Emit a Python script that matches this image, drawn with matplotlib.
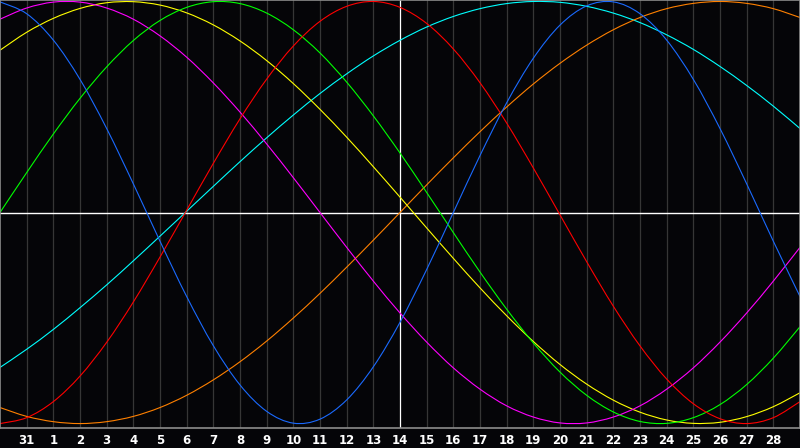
"""
Biorhythm chart - seven cycles over one month
"""

import matplotlib
matplotlib.use('Agg')
import matplotlib.pyplot as plt
from matplotlib.path import Path
from matplotlib.patches import PathPatch


# Colors
BG = '#050508'
GRID = '#363636'
FRAME = '#8c8c8c'
WHITE = '#ffffff'

# Day labels along the bottom (positions 1..29)
day_labels = ['31'] + [str(d) for d in range(1, 29)]
today_label = '14'

# Values, one per day from position 0 to 30
physical = [0.998, 0.942, 0.817, 0.631, 0.398, 0.136, -0.136, -0.398, -0.631, -0.817,
            -0.942, -0.998, -0.979, -0.888, -0.731, -0.520, -0.270, 0.000, 0.270, 0.520,
            0.731, 0.888, 0.979, 0.998, 0.942, 0.817, 0.631, 0.398, 0.136, -0.136, -0.398]
emotional = [-1.000, -0.972, -0.896, -0.775, -0.615, -0.424, -0.211, 0.011, 0.233, 0.444,
             0.632, 0.789, 0.906, 0.977, 1.000, 0.972, 0.896, 0.775, 0.615, 0.424,
             0.211, -0.011, -0.233, -0.444, -0.632, -0.789, -0.906, -0.977, -1.000, -0.972, -0.896]
intellectual = [0.000, 0.189, 0.372, 0.541, 0.690, 0.815, 0.910, 0.972, 0.999, 0.990,
                0.945, 0.866, 0.756, 0.618, 0.458, 0.282, 0.095, -0.095, -0.282, -0.458,
                -0.618, -0.756, -0.866, -0.945, -0.990, -0.999, -0.972, -0.910, -0.815, -0.690, -0.541]
intuitive = [0.916, 0.969, 0.997, 0.997, 0.969, 0.916, 0.837, 0.736, 0.614, 0.476,
             0.325, 0.165, 0.000, -0.165, -0.325, -0.476, -0.614, -0.736, -0.837, -0.916,
             -0.969, -0.997, -0.997, -0.969, -0.916, -0.837, -0.736, -0.614, -0.476, -0.325, -0.165]
aesthetic = [0.769, 0.854, 0.920, 0.967, 0.994, 0.999, 0.983, 0.946, 0.889, 0.813,
             0.720, 0.611, 0.489, 0.357, 0.217, 0.073, -0.073, -0.217, -0.357, -0.489,
             -0.611, -0.720, -0.813, -0.889, -0.946, -0.983, -0.999, -0.994, -0.967, -0.920, -0.854]
awareness = [-0.924, -0.966, -0.991, -1.000, -0.991, -0.966, -0.924, -0.866, -0.793, -0.707,
             -0.609, -0.500, -0.383, -0.259, -0.131, 0.000, 0.131, 0.259, 0.383, 0.500,
             0.609, 0.707, 0.793, 0.866, 0.924, 0.966, 0.991, 1.000, 0.991, 0.966, 0.924]
spiritual = [-0.734, -0.648, -0.554, -0.451, -0.343, -0.229, -0.112, 0.006, 0.124, 0.241,
             0.354, 0.462, 0.564, 0.657, 0.742, 0.816, 0.879, 0.929, 0.966, 0.990,
             1.000, 0.996, 0.977, 0.945, 0.900, 0.842, 0.773, 0.692, 0.602, 0.504, 0.398]

cycles = [
    (spiritual, '#00ffff'),
    (awareness, '#ff8000'),
    (aesthetic, '#ffff00'),
    (intuitive, '#ff00ff'),
    (intellectual, '#00ff00'),
    (emotional, '#ff0000'),
    (physical, '#1a6aff'),
]


def smooth_path(xs, ys):
    """Cubic bezier path through the given points (Catmull-Rom tangents)."""
    pts = list(zip(xs, ys))
    verts = [pts[0]]
    codes = [Path.MOVETO]
    n = len(pts)
    for i in range(n - 1):
        p0 = pts[max(i - 1, 0)]
        p1 = pts[i]
        p2 = pts[i + 1]
        p3 = pts[min(i + 2, n - 1)]
        c1 = (p1[0] + (p2[0] - p0[0]) / 6, p1[1] + (p2[1] - p0[1]) / 6)
        c2 = (p2[0] - (p3[0] - p1[0]) / 6, p2[1] - (p3[1] - p1[1]) / 6)
        verts += [c1, c2, p2]
        codes += [Path.CURVE4] * 3
    return Path(verts, codes)


def plot_biorhythm(save_path):
    fig = plt.figure(figsize=(8, 4.48), dpi=100, facecolor=BG)
    ax = fig.add_axes([0, 20 / 448, 1, 428 / 448])
    ax.set_facecolor(BG)

    n = len(physical)
    days = list(range(n))
    ax.set_xlim(0, n - 1)
    ax.set_ylim(-1.021, 1.007)

    # vertical day lines
    positions = list(range(1, len(day_labels) + 1))
    for pos, lab in zip(positions, day_labels):
        col = WHITE if lab == today_label else GRID
        ax.axvline(pos, color=col, linewidth=0.9, zorder=1)
    ax.axhline(0, color=WHITE, linewidth=1.0, zorder=1)

    for vals, col in cycles:
        patch = PathPatch(smooth_path(days, vals), facecolor='none',
                          edgecolor=col, linewidth=0.8, zorder=2)
        ax.add_patch(patch)

    ax.set_xticks(positions)
    ax.set_xticklabels(day_labels, color=WHITE, fontsize=8.5,
                       fontweight='bold', family='DejaVu Sans')
    ax.tick_params(axis='x', length=0, pad=4)
    ax.set_yticks([])
    for s in ax.spines.values():
        s.set_color(FRAME)
        s.set_linewidth(1.2)

    fig.savefig(save_path, dpi=100, facecolor=BG)
    print(f"Saved: {save_path}")


def main():
    plot_biorhythm('out.png')


if __name__ == "__main__":
    main()
